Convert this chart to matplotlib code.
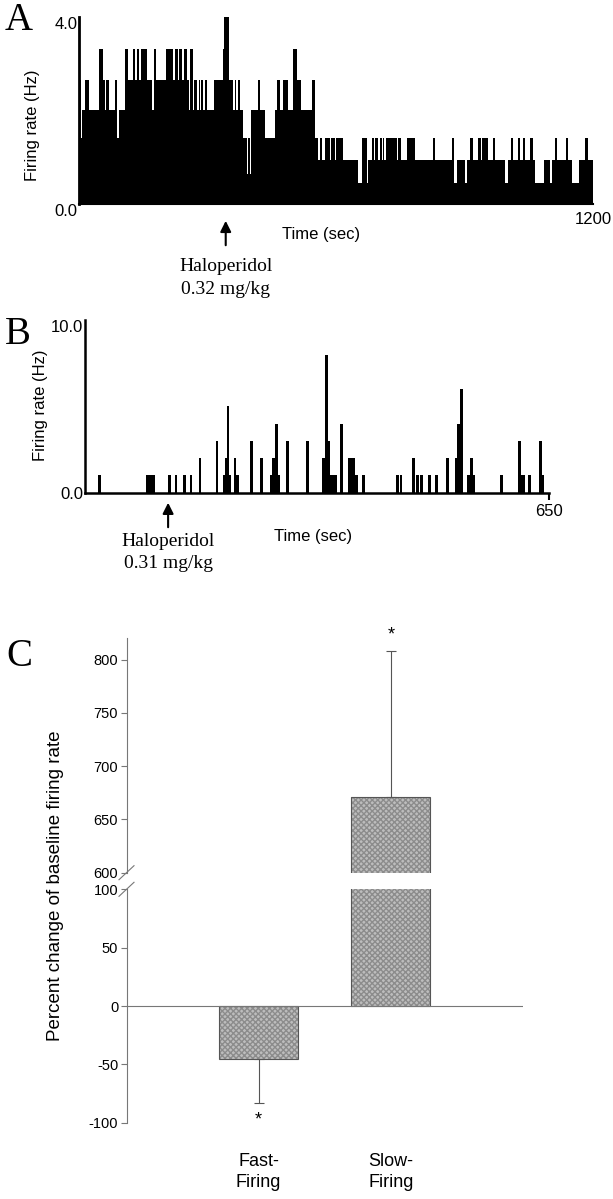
import matplotlib
matplotlib.use('Agg')
import matplotlib.pyplot as plt
from matplotlib.lines import Line2D

plt.rcParams['font.family'] = 'Liberation Sans'
plt.rcParams['axes.unicode_minus'] = False
SERIF = 'Liberation Serif'

# ---- Panel A: rate histogram (run starts in sec, rate in Hz)
a_start = [0, 5.6, 8, 15.7, 23.5, 48.3, 56, 60.8, 63.9, 71.6,
           84, 89.5, 95, 109, 115, 127.6, 132.2, 135.4, 141.6, 146.2,
           158.7, 171, 175, 180.4, 203.7, 220.8, 225.5, 230.9, 234.8, 241,
           246.5, 252, 256.6, 260.5, 266, 269.8, 275.2, 280, 283, 286,
           290.7, 293.8, 300, 316.4, 336, 339, 351, 360, 364, 368,
           372, 377, 383, 393, 396, 399, 403, 418, 423.7, 433.8,
           458.6, 463.3, 468.7, 476.5, 488, 499.8, 510, 519, 545, 550,
           558, 562, 567.4, 573.6, 585, 589, 597, 601, 616, 651,
           660, 671.6, 674.7, 683.3, 688.7, 691, 698.8, 702.7, 706.6, 709,
           712, 716.7, 741.6, 745.5, 751, 765, 784.3, 825.5, 831, 869.8,
           875, 881.4, 901, 904.7, 912.5, 918.7, 932, 937.4, 940.5, 955.3,
           965.3, 970.8, 994, 1000, 1007.5, 1012, 1024, 1028.6, 1035, 1039.6,
           1053.4, 1058.8, 1064.3, 1085.4, 1099, 1103.7, 1110, 1115.6, 1135.7, 1141.2,
           1149.5, 1167.8, 1181.5, 1187]
a_rate = [2.65, 1.4, 2.0, 2.65, 2.0, 3.3, 2.65, 2.0, 2.65, 2.0,
          2.65, 1.4, 2.0, 3.3, 2.65, 3.3, 2.65, 3.3, 2.65, 3.3,
          2.65, 2.0, 3.3, 2.65, 3.3, 2.65, 3.3, 2.65, 3.3, 2.65,
          3.3, 2.65, 2.0, 3.3, 2.0, 2.65, 2.0, 2.65, 2.0, 2.65,
          2.0, 2.65, 2.0, 2.65, 3.3, 4.0, 2.65, 2.0, 2.65, 2.0,
          2.65, 2.0, 1.4, 0.65, 1.4, 0.65, 2.0, 2.65, 2.0, 1.4,
          2.0, 2.65, 2.0, 2.65, 2.0, 3.3, 2.65, 2.0, 2.65, 1.4,
          0.95, 1.4, 0.95, 1.4, 0.95, 1.4, 0.95, 1.4, 0.95, 0.45,
          1.4, 0.45, 0.95, 1.4, 0.95, 1.4, 0.95, 1.4, 0.95, 1.4,
          0.95, 1.4, 0.95, 1.4, 0.95, 1.4, 0.95, 1.4, 0.95, 1.4,
          0.45, 0.95, 0.45, 0.95, 1.4, 0.95, 1.4, 0.95, 1.4, 0.95,
          1.4, 0.95, 0.45, 0.95, 1.4, 0.95, 1.4, 0.95, 1.4, 0.95,
          1.4, 0.95, 0.45, 0.95, 0.45, 0.95, 1.4, 0.95, 1.4, 0.95,
          0.45, 0.95, 1.4, 0.95]
a_end = 1200
a_inject_t = 343
a_dose = '0.32 mg/kg'

# ---- Panel B: sparse firing (bin centre in sec, rate in Hz)
b_time = [20.5, 88, 91, 94, 97, 118.6, 127.9, 139.6, 148.9, 161.5,
          185.5, 196, 198.5, 201, 203.5, 210.5, 214, 233.4, 248, 262,
          264.5, 268.6, 272, 283.8, 311.7, 334.8, 338.5, 341.8, 345, 348.5,
          352, 359.7, 370, 373.5, 377, 381, 390, 437.5, 443, 460.6,
          465.5, 471.8, 483, 492.8, 507.7, 520, 523, 526, 528, 537,
          542, 545, 584, 608.6, 612, 614.5, 622.4, 638.3, 641.6]
b_rate = [1, 1, 1, 1, 1, 1, 1, 1, 1, 2,
          3, 1, 2, 5, 1, 2, 1, 3, 2, 1,
          2, 4, 1, 3, 3, 2, 8, 3, 1, 1,
          1, 4, 2, 2, 2, 1, 1, 1, 1, 2,
          1, 1, 1, 1, 2, 2, 4, 4, 6, 1,
          2, 1, 1, 3, 1, 1, 1, 3, 1]
b_end = 650
b_inject_t = 117
b_dose = '0.31 mg/kg'

# ---- Panel C: percent change of baseline firing rate
c_groups = ['Fast-\nFiring', 'Slow-\nFiring']
c_change = [-45, 671]
c_err_low = [38, 0]
c_err_high = [0, 137]


def fx(px):
    return px / 613.0


def fy(py):
    return 1 - py / 1199.0


fig = plt.figure(figsize=(6.13, 11.99), dpi=100)

# ---------------- A
ax_a = fig.add_axes([fx(78.6), fy(204), fx(593.3) - fx(78.6), fy(16.7) - fy(204)])
ax_a.stairs(a_rate, a_start + [a_end], fill=True, color='black')
ax_a.set_xlim(0, a_end)
ax_a.set_ylim(0, 4.0)
for s in ['top', 'right']:
    ax_a.spines[s].set_visible(False)
ax_a.spines['left'].set_linewidth(2)
ax_a.spines['bottom'].set_linewidth(1.5)
ax_a.set_yticks([0, 4.0], ['0.0', '4.0'])
ax_a.set_xticks([a_end], [str(a_end)])
ax_a.tick_params(length=0, labelsize=12, pad=1)
for lab in ax_a.get_yticklabels():
    lab.set_va('top')
ax_a.get_yticklabels()[1].set_y(3.85)
ax_a.tick_params(axis='x', pad=6)

tr = ax_a.get_xaxis_transform()
ax_a.annotate('', xy=(a_inject_t, -0.075), xytext=(a_inject_t, -0.235), xycoords=tr,
              arrowprops=dict(arrowstyle='-|>', color='black', lw=1.5, mutation_scale=16),
              annotation_clip=False)
ax_a.text(a_inject_t, -0.336, 'Haloperidol', transform=tr, ha='center', va='center',
          family=SERIF, fontsize=14)
ax_a.text(a_inject_t, -0.459, a_dose, transform=tr, ha='center', va='center',
          family=SERIF, fontsize=14)
fig.text(fx(321), fy(235), 'Time (sec)', ha='center', va='center', fontsize=12)
fig.text(fx(32), fy(125), 'Firing rate (Hz)', rotation=90, ha='center', va='center', fontsize=12)
fig.text(fx(5), fy(20), 'A', family=SERIF, fontsize=28, ha='left', va='center')

# ---------------- B
ax_b = fig.add_axes([fx(84.5), fy(492.7), fx(549) - fx(84.5), fy(320) - fy(492.7)])
ax_b.bar(b_time, b_rate, width=3.8, color='black', linewidth=0)
ax_b.set_xlim(0, b_end)
ax_b.set_ylim(0, 10)
for s in ['top', 'right']:
    ax_b.spines[s].set_visible(False)
ax_b.spines['left'].set_linewidth(1.8)
ax_b.spines['bottom'].set_linewidth(1.8)
ax_b.set_yticks([0, 10], ['0.0', '10.0'])
ax_b.tick_params(axis='y', length=0, labelsize=12, pad=1)
ax_b.get_yticklabels()[1].set_va('top')
ax_b.set_xticks([b_end], [str(b_end)])
ax_b.tick_params(axis='x', length=5, width=1.5, labelsize=12, pad=3)

tr = ax_b.get_xaxis_transform()
ax_b.annotate('', xy=(b_inject_t, -0.042), xytext=(b_inject_t, -0.216), xycoords=tr,
              arrowprops=dict(arrowstyle='-|>', color='black', lw=1.5, mutation_scale=16),
              annotation_clip=False)
ax_b.text(b_inject_t, -0.284, 'Haloperidol', transform=tr, ha='center', va='center',
          family=SERIF, fontsize=14)
ax_b.text(b_inject_t, -0.408, b_dose, transform=tr, ha='center', va='center',
          family=SERIF, fontsize=14)
fig.text(fx(313), fy(537), 'Time (sec)', ha='center', va='center', fontsize=12)
fig.text(fx(41), fy(405), 'Firing rate (Hz)', rotation=90, ha='center', va='center', fontsize=12)
fig.text(fx(5), fy(335), 'B', family=SERIF, fontsize=28, ha='left', va='center')

# ---------------- C (broken axis)
left, right = fx(126.5), fx(523)
ax_top = fig.add_axes([left, fy(872.7), right - left, fy(638.3) - fy(872.7)])
ax_low = fig.add_axes([left, fy(1122.7), right - left, fy(889.3) - fy(1122.7)])
xpos = [1, 2]
grey = '#777777'
for ax in (ax_top, ax_low):
    ax.bar(xpos, c_change, width=0.6, color='#bdbdbd', edgecolor='#8c8c8c',
           hatch='xxxxxx', linewidth=0)
    ax.bar(xpos, c_change, width=0.6, fill=False, edgecolor='#555555', linewidth=0.8)
    ax.errorbar(xpos, c_change, yerr=[c_err_low, c_err_high], fmt='none',
                ecolor='#555555', elinewidth=0.8, capsize=3.5, capthick=0.8)
    ax.set_xlim(0, 3)
    for s in ['top', 'right', 'bottom']:
        ax.spines[s].set_visible(False)
    ax.spines['left'].set_color(grey)
    ax.spines['left'].set_linewidth(0.8)
    ax.tick_params(axis='y', length=4, width=0.8, color=grey, labelsize=10.5, pad=2)
ax_top.set_ylim(600, 820)
ax_top.set_yticks([600, 650, 700, 750, 800])
ax_top.set_xticks([])
ax_low.set_ylim(-100, 100)
ax_low.set_yticks([-100, -50, 0, 50, 100])
ax_low.axhline(0, color=grey, lw=0.8)
ax_low.set_xticks(xpos, c_groups)
ax_low.tick_params(axis='x', length=0, labelsize=13, pad=22)
for lab in ax_low.get_xticklabels():
    lab.set_linespacing(1.3)

ax_top.text(2, 823, '*', ha='center', va='center', fontsize=13, clip_on=False)
ax_low.text(1, -98, '*', ha='center', va='center', fontsize=13, clip_on=False)

# break marks
for py in (872.7, 889.3):
    fig.add_artist(Line2D([fx(119), fx(134)], [fy(py + 7), fy(py - 7)],
                          transform=fig.transFigure, color=grey, lw=0.8))

fig.text(fx(56), fy(886), 'Percent change of baseline firing rate', rotation=90,
         ha='center', va='center', fontsize=13.5)
fig.text(fx(6), fy(657), 'C', family=SERIF, fontsize=28, ha='left', va='center')

fig.savefig('out.png', dpi=100)
